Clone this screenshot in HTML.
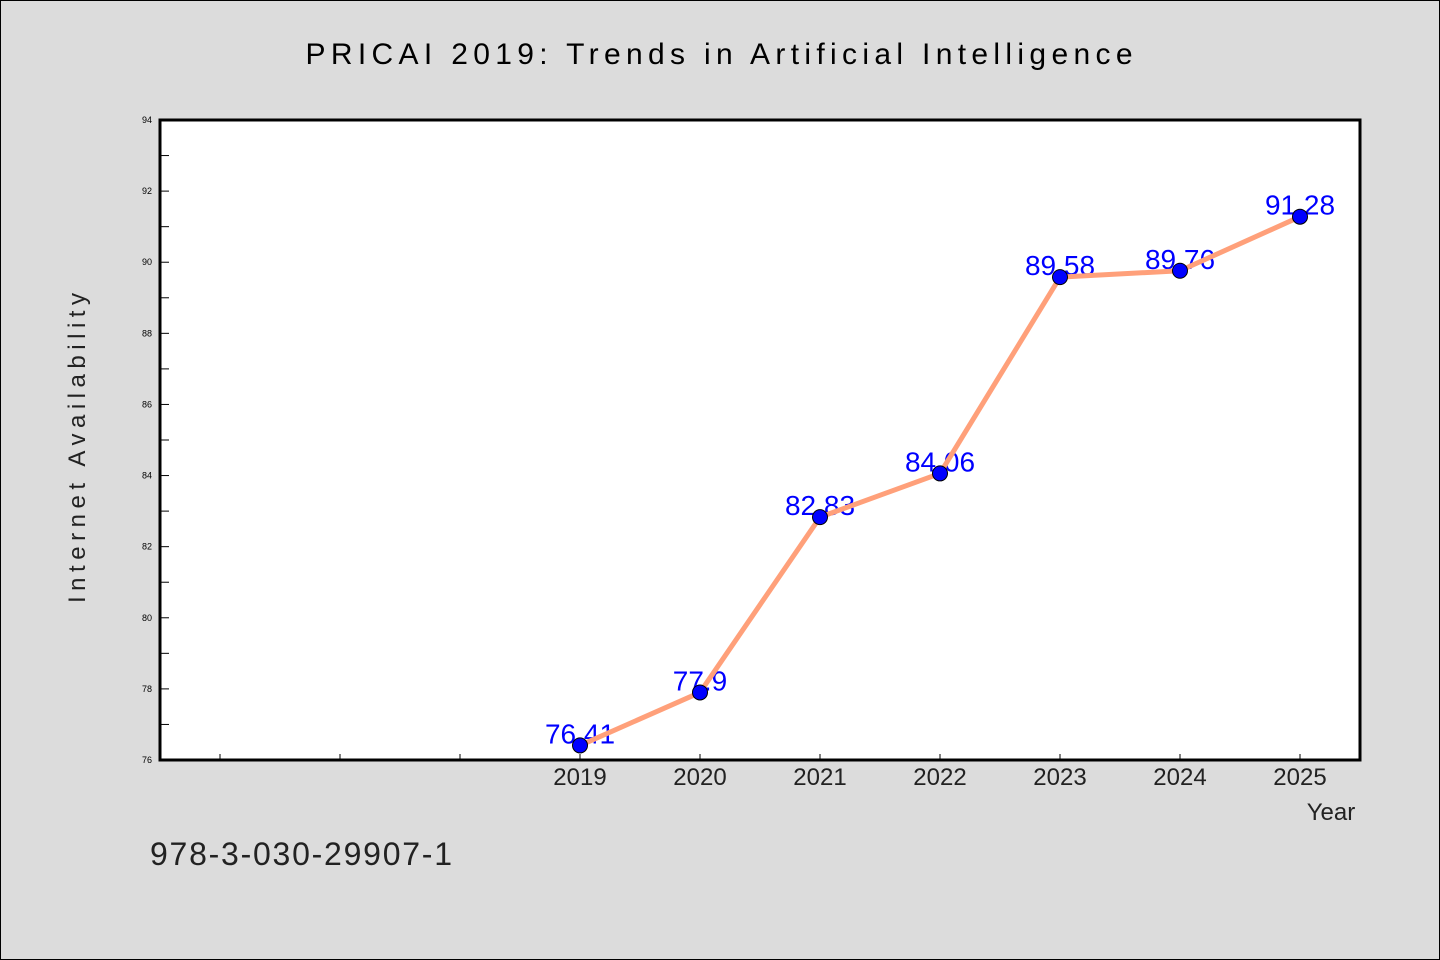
<!DOCTYPE html>
<html><head><meta charset="utf-8"><style>
html,body{margin:0;padding:0;background:#dcdcdc;}
svg{display:block;font-family:"WenQuanYi Zen Hei","Liberation Sans",sans-serif;}
</style></head><body>
<svg id="c" width="1440" height="960" viewBox="0 0 1440 960">
<rect x="0.5" y="0.5" width="1439" height="959" fill="#dcdcdc" stroke="#000"/>
<text x="719" y="64" font-size="30" text-anchor="middle" textLength="827" fill="#000">PRICAI 2019: Trends in Artificial Intelligence</text>
<rect x="160" y="120" width="1200" height="640" fill="#fff"/>
<g id="axes"></g>
<g id="marks"></g>
<rect x="160" y="120" width="1200" height="640" fill="none" stroke="#000" stroke-width="3"/>
<text transform="translate(85,448) rotate(-90)" font-size="24" text-anchor="middle" textLength="310" fill="#222">Internet Availability</text>
<text x="1331" y="820" font-size="24" text-anchor="middle" fill="#222">Year</text>
<text x="150" y="865" font-size="32" textLength="302" fill="#222">978-3-030-29907-1</text>
</svg>
<script>
const years = [2019, 2020, 2021, 2022, 2023, 2024, 2025];
const values = [76.41, 77.9, 82.83, 84.06, 89.58, 89.76, 91.28];
const labels = ["76.41", "77.9", "82.83", "84.06", "89.58", "89.76", "91.28"];
const yTicks = [76, 78, 80, 82, 84, 86, 88, 90, 92, 94];
const xMin = 2015.5, xMax = 2025.5, yMin = 76, yMax = 94;
const L = 160, R = 1360, T = 120, B = 760;
const NS = "http://www.w3.org/2000/svg";
function sx(v){ return L + (v - xMin) / (xMax - xMin) * (R - L); }
function sy(v){ return B - (v - yMin) / (yMax - yMin) * (B - T); }
function mk(tag, attrs, parent){ const e = document.createElementNS(NS, tag); for (const k in attrs) e.setAttribute(k, attrs[k]); parent.appendChild(e); return e; }
const axes = document.getElementById('axes');
const marks = document.getElementById('marks');
yTicks.forEach(t => {
  const y = sy(t);
  const tk = mk('line', {x1: L, x2: L + 9, y1: y, y2: y, stroke: '#000', 'stroke-width': 1}, axes);
  
  
  const lb = mk('text', {x: L - 8, y: y + 3, 'font-size': 9, 'text-anchor': 'end', fill: '#000'}, axes);
  lb.textContent = t;
  
  
  if (t < yMax) {
    const ym = sy(t + 1);
    const mn = mk('line', {x1: L, x2: L + 9, y1: ym, y2: ym, stroke: '#000', 'stroke-width': 1}, axes);
    
    
  }
});
for (let yr = 2016; yr <= 2025; yr++) {
  const x = sx(yr);
  const tk = mk('line', {x1: x, x2: x, y1: B, y2: B - 6, stroke: '#000', 'stroke-width': 1}, axes);
  
  
}
years.forEach(yr => {
  const lb = mk('text', {x: sx(yr), y: 785, 'font-size': 24, 'text-anchor': 'middle', fill: '#222'}, axes);
  lb.textContent = yr;
  
  
});
years.forEach((yr, i) => {
  const lb = mk('text', {x: sx(yr), y: sy(values[i]) - 2, 'font-size': 28, 'text-anchor': 'middle', fill: '#0000ff'}, marks);
  lb.textContent = labels[i];
  
  
});
const pts = years.map((yr, i) => sx(yr) + ',' + sy(values[i])).join(' ');
const line = mk('polyline', {points: pts, fill: 'none', stroke: '#ffa07a', 'stroke-width': 5, 'stroke-linejoin': 'round'}, marks);


years.forEach((yr, i) => {
  const c = mk('circle', {cx: sx(yr), cy: sy(values[i]), r: 7.5, fill: '#0000ff', stroke: '#000', 'stroke-width': 1}, marks);
  
  
});
</script>
</body></html>
